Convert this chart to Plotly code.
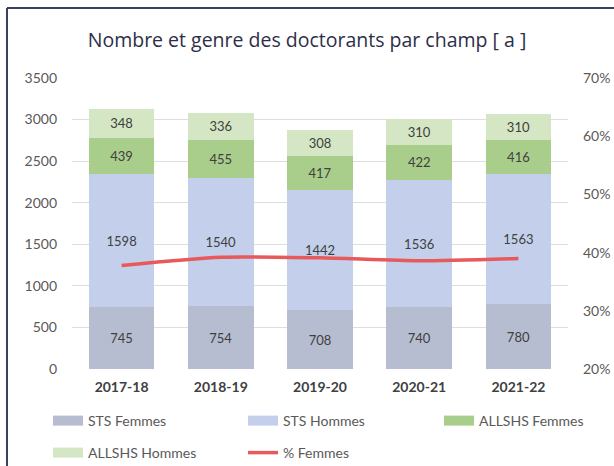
import plotly.graph_objects as go

categories = ["2017-18", "2018-19", "2019-20", "2020-21", "2021-22"]
sts_femmes = [745, 754, 708, 740, 780]
sts_hommes = [1598, 1540, 1442, 1536, 1563]
allshs_femmes = [439, 455, 417, 422, 416]
allshs_hommes = [348, 336, 308, 310, 310]
pct_femmes = [0.378, 0.392, 0.391, 0.386, 0.390]

series = [
    ("STS Femmes", sts_femmes, "#b6bdd0", "legend"),
    ("STS Hommes", sts_hommes, "#c3cfeb", "legend"),
    ("ALLSHS Femmes", allshs_femmes, "#a9cd8b", "legend3"),
    ("ALLSHS Hommes", allshs_hommes, "#d4e6c3", "legend2"),
]

W, H = 614, 466
ML, MR, MT, MB = 72, 46, 78, 97
PW, PH = W - ML - MR, H - MT - MB

fig = go.Figure()
for name, vals, color, lg in series:
    fig.add_trace(go.Bar(
        x=categories, y=vals, name=name, marker=dict(color=color, line=dict(width=0)),
        text=[str(v) for v in vals], textposition="inside", insidetextanchor="middle",
        textfont=dict(family="Lato", size=13, color="#404040"), textangle=0,
        showlegend=False, hoverinfo="skip",
    ))

fig.add_trace(go.Scatter(
    x=categories, y=pct_femmes, name="% Femmes", mode="lines", yaxis="y2",
    line=dict(color="#e8595c", width=3.5, shape="spline", smoothing=0.6),
    showlegend=False,
))

# legend entries (wide swatches)
for name, vals, color, lg in series:
    fig.add_trace(go.Scatter(x=[None], y=[None], name=name, mode="lines",
                             line=dict(color=color, width=10), legend=lg))
fig.add_trace(go.Scatter(x=[None], y=[None], name="% Femmes", mode="lines",
                         line=dict(color="#e8595c", width=3.5), legend="legend2"))

def px_x(x):
    return (x - ML) / PW

def px_y(y):
    return (H - MB - y) / PH

legend_common = dict(
    orientation="h", xanchor="left", yanchor="middle", traceorder="normal",
    font=dict(family="Lato", size=14, color="#595959"),
    entrywidthmode="pixels", entrywidth=150, bgcolor="rgba(0,0,0,0)",
    itemwidth=30, tracegroupgap=0,
)

fig.update_layout(
    width=W, height=H,
    margin=dict(l=ML, r=MR, t=MT, b=MB, autoexpand=False),
    paper_bgcolor="white", plot_bgcolor="white",
    barmode="stack", bargap=0.34,
    title=dict(text="Nombre et genre des doctorants par champ [ a ]",
               x=0.5, xanchor="center", y=1 - 40 / H, yanchor="middle",
               font=dict(family="Open Sans", size=19.5, color="#2d2f48")),
    xaxis=dict(tickfont=dict(family="Lato", size=14, color="#404040", weight="bold"),
               showline=False, ticks="", ticklabelstandoff=8),
    yaxis=dict(range=[0, 3500], dtick=500, gridcolor="#dedede", gridwidth=1,
               zeroline=False, tickfont=dict(family="Lato", size=14, color="#595959"),
               ticklabelstandoff=14),
    yaxis2=dict(range=[0.2, 0.7], dtick=0.1, tickformat=".0%", overlaying="y",
                side="right", showgrid=False, zeroline=False,
                tickfont=dict(family="Lato", size=14, color="#595959"),
                ticklabelstandoff=14),
    legend=dict(x=px_x(48), y=px_y(421), **legend_common),
    legend2=dict(x=px_x(48), y=px_y(453), **legend_common),
    legend3=dict(x=px_x(439), y=px_y(421), **legend_common),
    showlegend=True,
    shapes=[
        dict(type="line", xref="paper", yref="paper", x0=px_x(7), x1=px_x(7),
             y0=px_y(470), y1=px_y(8), line=dict(color="#3b3f5e", width=2)),
        dict(type="line", xref="paper", yref="paper", x0=px_x(7), x1=px_x(620),
             y0=px_y(8), y1=px_y(8), line=dict(color="#3b3f5e", width=2)),
    ],
)

fig.write_html("out.html", config={"displayModeBar": False},
               post_script="document.body.style.margin='0';")
